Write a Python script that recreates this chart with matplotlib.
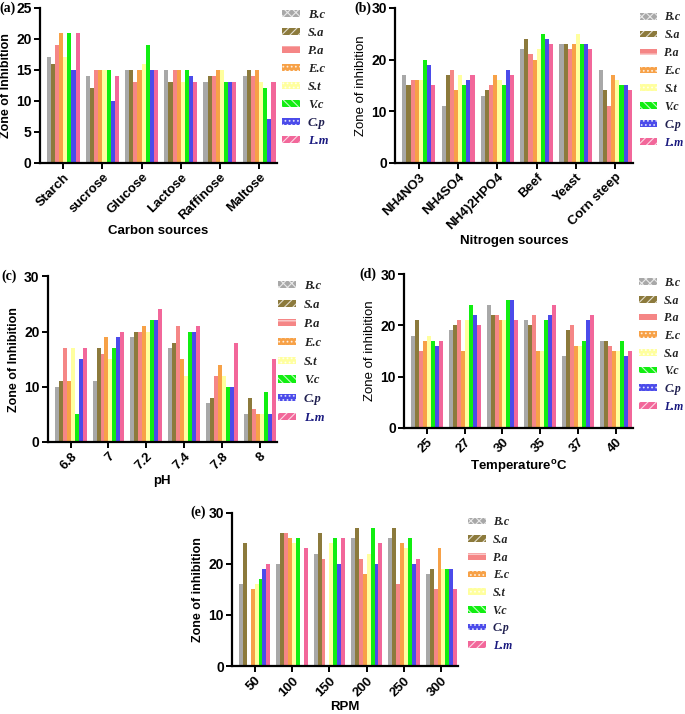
import numpy as np
import matplotlib
matplotlib.use('Agg')
from matplotlib import pyplot as plt
from matplotlib.patches import Patch

plt.rcParams['font.family'] = ['Liberation Sans', 'DejaVu Sans']
plt.rcParams['hatch.color'] = (1, 1, 1, 0.75)
plt.rcParams['hatch.linewidth'] = 0.8

species = ['B.c', 'S.a', 'P.a', 'E.c', 'S.t', 'V.c', 'C.p', 'L.m']
species_d = ['B.c', 'S.a', 'P.a', 'E.c', 'S.a', 'V.c', 'C.p', 'L.m']
colors = ['#a8a8a8', '#8c7a3c', '#f58686', '#f7a147', '#ffff9e', '#11ee11', '#4b4bea', '#f2679a']
hatches = ['xxxx', '////', '--', '....', '....', '\\\\\\\\', '....', '////']
label_colors = ['#222222'] * 6 + ['#202050', '#1a1a80']

# (a) carbon sources
carbon = ['Starch', 'sucrose', 'Glucose', 'Lactose', 'Raffinose', 'Maltose']
carbon_vals = [
    [17, 14, 15, 15, 13, 14],
    [16, 12, 15, 13, 14, 15],
    [19, 15, 13, 15, 14, 14],
    [21, 15, 15, 15, 15, 15],
    [17, 15, 16, 13, 15, 13],
    [21, 15, 19, 15, 13, 12],
    [15, 10, 15, 14, 13, 7],
    [21, 14, 15, 13, 13, 13],
]

# (b) nitrogen sources
nitrogen = ['NH4NO3', 'NH4SO4', 'NH4)2HPO4', 'Beef', 'Yeast', 'Corn steep']
nitrogen_vals = [
    [17, 11, 13, 22, 23, 18],
    [15, 17, 14, 24, 23, 14],
    [16, 18, 15, 21, 22, 11],
    [16, 14, 17, 20, 23, 17],
    [16, 17, 16, 22, 25, 16],
    [20, 15, 15, 25, 23, 15],
    [19, 16, 18, 24, 23, 15],
    [15, 17, 17, 23, 22, 14],
]

# (c) pH
ph = ['6.8', '7', '7.2', '7.4', '7.8', '8']
ph_vals = [
    [10, 11, 19, 17, 7, 5],
    [11, 17, 20, 18, 8, 8],
    [17, 16, 20, 21, 12, 6],
    [11, 19, 21, 15, 14, 5],
    [17, 15, 20, 12, 12, 5],
    [5, 17, 22, 20, 10, 9],
    [15, 19, 22, 20, 10, 5],
    [17, 20, 24, 21, 18, 15],
]

# (d) temperature
temp = ['25', '27', '30', '35', '37', '40']
temp_vals = [
    [18, 19, 24, 21, 14, 17],
    [21, 20, 22, 20, 19, 17],
    [15, 21, 22, 22, 20, 16],
    [17, 15, 21, 15, 16, 15],
    [18, 21, 21, 15, 16, 15],
    [17, 24, 25, 21, 17, 17],
    [16, 22, 25, 22, 21, 14],
    [17, 20, 21, 24, 22, 15],
]

# (e) RPM
rpm = ['50', '100', '150', '200', '250', '300']
rpm_vals = [
    [16, 20, 22, 25, 25, 18],
    [24, 26, 26, 27, 27, 19],
    [0, 26, 21, 21, 16, 15],
    [15, 25, 0, 18, 24, 23],
    [16, 24, 24, 22, 23, 19],
    [17, 25, 25, 27, 25, 19],
    [19, 0, 20, 20, 20, 19],
    [20, 23, 25, 24, 21, 15],
]


def panel(fig, rect, cats, vals, ymax, ystep, xlabel, ylabel, ylabel_bold, tag, labels,
          tag_dx, leg_xy, leg_size, leg_space):
    ax = fig.add_axes(rect)
    x = np.arange(len(cats))
    w = 0.105
    for i in range(8):
        ax.bar(x + (i - 3.5) * w, vals[i], width=w, color=colors[i], linewidth=0)
    ax.set_xlim(-0.6, len(cats) - 0.55)
    ax.set_ylim(0, ymax)
    ax.set_yticks(np.arange(0, ymax + 1, ystep))
    ax.set_xticks(x)
    ax.set_xticklabels(cats, rotation=45, ha='right', rotation_mode='anchor',
                       fontsize=9.5, fontweight='bold')
    for t in ax.get_yticklabels():
        t.set_fontweight('bold')
        t.set_fontsize(10)
    for s in ['top', 'right']:
        ax.spines[s].set_visible(False)
    for s in ['left', 'bottom']:
        ax.spines[s].set_linewidth(1.6)
    ax.tick_params(axis='both', width=1.4, length=4, pad=2)
    ax.set_xlabel(xlabel, fontsize=9.5, fontweight='bold', labelpad=2)
    if ylabel_bold:
        ax.set_ylabel(ylabel, fontsize=9, fontweight='bold', labelpad=3)
    else:
        ax.set_ylabel(ylabel, fontsize=9.5, labelpad=3)
    ax.text(tag_dx, 1.0, tag, transform=ax.transAxes, fontsize=10, fontweight='bold',
            family='Liberation Serif', ha='right', va='center')
    handles = [Patch(facecolor=colors[i], hatch=hatches[i], label=labels[i]) for i in range(8)]
    leg = ax.legend(handles=handles, loc='upper left', bbox_to_anchor=leg_xy,
                    frameon=False, handlelength=1.5, handleheight=0.5, labelspacing=leg_space,
                    handletextpad=0.6, borderaxespad=0, borderpad=0.3,
                    prop={'family': 'Liberation Serif', 'style': 'italic', 'weight': 'bold',
                          'size': leg_size})
    for t, c in zip(leg.get_texts(), label_colors):
        t.set_color(c)
    return ax


fig = plt.figure(figsize=(6.85, 7.14), dpi=100)

panel(fig, [0.058, 0.772, 0.346, 0.217], carbon, carbon_vals, 25, 5,
      'Carbon sources', 'Zone of Inhibition', True, '(a)', species, -0.1,
      (1.005, 1.02), 9, 0.48)
panel(fig, [0.577, 0.772, 0.347, 0.217], nitrogen, nitrogen_vals, 30, 10,
      'Nitrogen sources', 'Zone of inhibition', False, '(b)', species, -0.1,
      (1.013, 1.0), 8.5, 0.5)
panel(fig, [0.070, 0.381, 0.334, 0.232], ph, ph_vals, 30, 10,
      'pH', 'Zone of Inhibition', True, '(c)', species, -0.135,
      (0.987, 1.0), 9, 0.55)
panel(fig, [0.590, 0.401, 0.334, 0.215], temp, temp_vals, 30, 10,
      'Temperature$^{\\mathregular{o}}$C', 'Zone of inhibition', False, '(d)', species_d, -0.12,
      (1.013, 1.005), 8.5, 0.48)
panel(fig, [0.339, 0.067, 0.330, 0.215], rpm, rpm_vals, 30, 10,
      'RPM', 'Zone of inhibition', True, '(e)', species, -0.115,
      (1.027, 1.0), 8.5, 0.48)

fig.savefig('out.png', dpi=100)
